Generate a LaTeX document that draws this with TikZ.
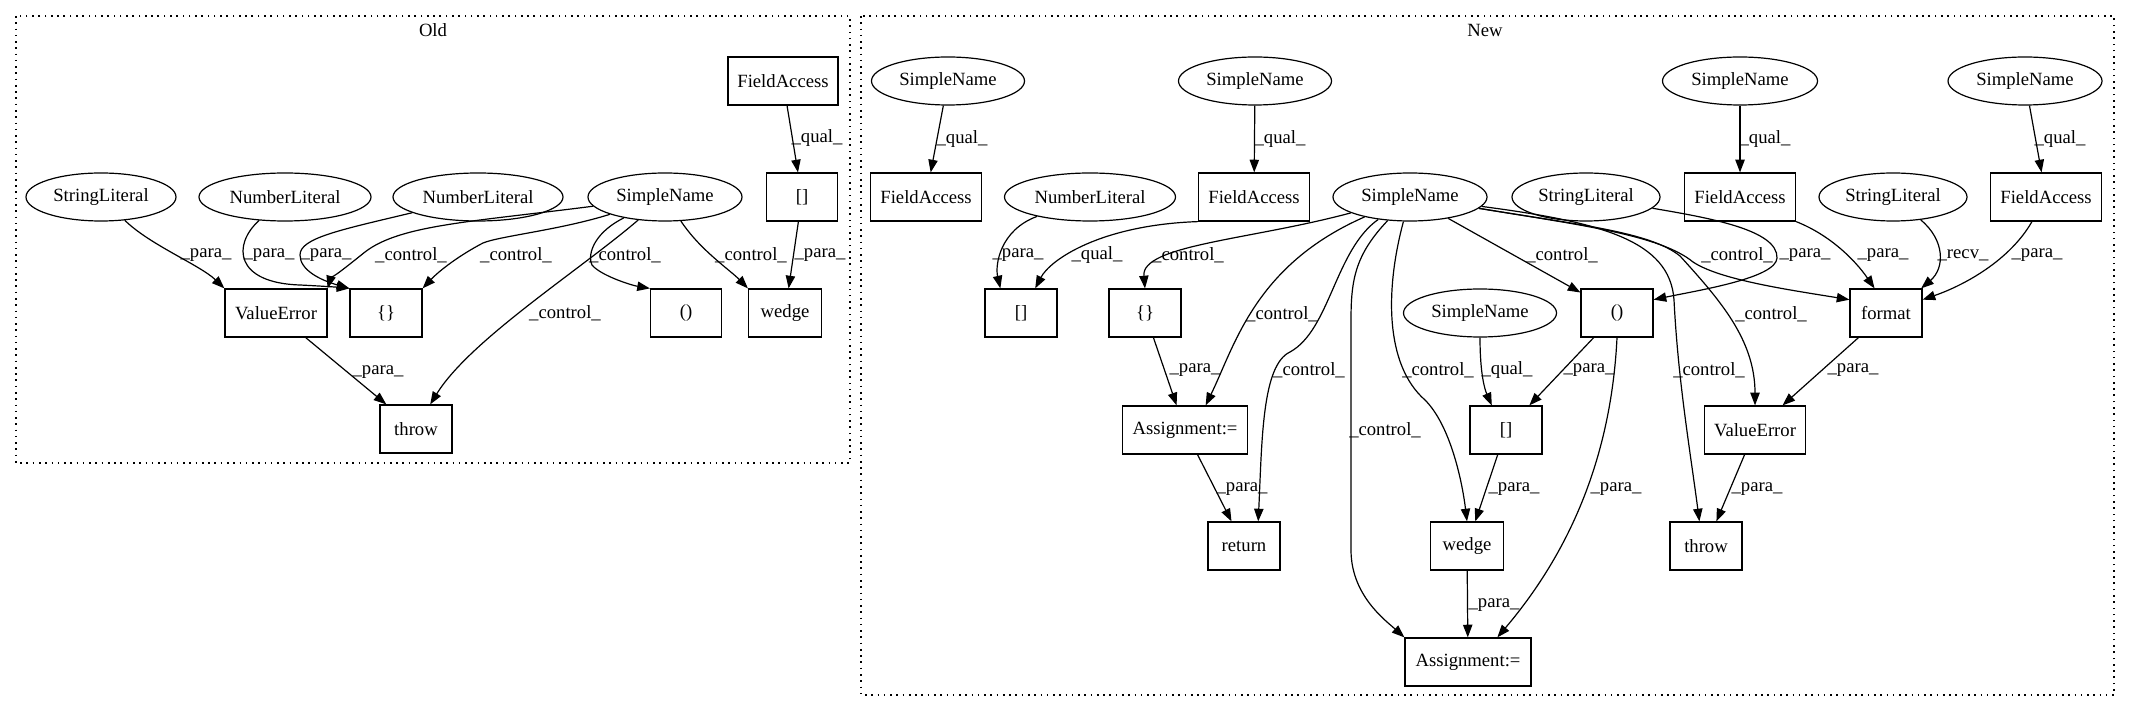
\documentclass[tikz,border=0pt]{standalone}
\usepackage{fontspec}
\setmainfont{Liberation Serif}
\usetikzlibrary{shapes.geometric,arrows.meta}
\begin{document}
\begin{tikzpicture}[x=0.75pt,y=-0.75pt,
 every node/.style={font=\fontsize{14pt}{16pt}\selectfont},
 wd/.style={minimum width=#1*0.75pt},
 box/.style={draw,rectangle,minimum height=36pt,inner sep=0pt,line width=0.9pt},
 ell/.style={draw,ellipse,minimum height=36pt,inner sep=0pt,line width=0.9pt},
 lbl/.style={inner sep=0pt},
 arr/.style={-{Triangle[length=9.5pt,width=7pt]},line width=0.9pt},
 cluster/.style={dash pattern=on 1.2pt off 3.5pt,line width=1pt}]
\useasboundingbox (0,0) rectangle (2129,712);
% clusters
\draw[cluster] (16,16) rectangle (850,463);
\draw[cluster] (861,16) rectangle (2114,695);
\node[lbl] (tOld) at (433,30) {Old};
\node[lbl] (tNew) at (1485,30) {New};
% ---------- Old ----------
\node[box,wd=110] (oFA) at (783,81) {FieldAccess};
\node[box,wd=71] (oBr) at (802,197) {[]};
\node[ell,wd=150] (oSL) at (101,197) {StringLiteral};
\node[ell,wd=172] (oNL1) at (285,197) {NumberLiteral};
\node[ell,wd=170] (oNL2) at (478,197) {NumberLiteral};
\node[ell,wd=154] (oSN) at (665,197) {SimpleName};
\node[box,wd=102] (oVE) at (276,313) {ValueError};
\node[box,wd=72] (oBraces) at (386,313) {\{\}};
\node[box,wd=71] (oParen) at (686,313) {()};
\node[box,wd=73] (oWedge) at (785,313) {wedge};
\node[box,wd=72] (oThrow) at (416,429) {throw};
\draw[arr] (oFA) -- (oBr);
\draw[arr] (oBr) -- (oWedge);
\draw[arr] (oSL) .. controls (150,245) and (200,265) .. (oVE.north west);
\draw[arr] (oNL1) .. controls (232,245) and (235,283) .. (300,285) .. controls (320,286) and (335,287) .. (oBraces.north west);
\draw[arr] (oNL2) .. controls (340,230) and (300,238) .. (300,255) .. controls (300,270) and (320,280) .. (oBraces.north west);
\draw[arr] (oSN) .. controls (470,222) and (400,225) .. (365,252) .. controls (345,268) and (330,280) .. (oVE.north east);
\draw[arr] (oSN) .. controls (560,230) and (500,236) .. (483,243) .. controls (460,255) and (440,270) .. (oBraces.north east);
\draw[arr] (oSN) .. controls (590,235) and (588,258) .. (592,265) .. controls (600,275) and (630,285) .. (oParen.north west);
\draw[arr] (oSN) .. controls (700,250) and (730,270) .. (oWedge.north west);
\draw[arr] (oSN) .. controls (580,270) and (470,340) .. (oThrow.60);
\draw[arr] (oVE) -- (oThrow);
\node[lbl] (ol1) at (817,138) {\_qual\_};
\node[lbl] (ol2) at (820,255) {\_para\_};
\node[lbl] (ol3) at (206,255) {\_para\_};
\node[lbl] (ol4) at (269,255) {\_para\_};
\node[lbl] (ol5) at (326,255) {\_para\_};
\node[lbl] (ol6) at (411,255) {\_control\_};
\node[lbl] (ol7) at (516,255) {\_control\_};
\node[lbl] (ol8) at (625,255) {\_control\_};
\node[lbl] (ol9) at (751,255) {\_control\_};
\node[lbl] (ol10) at (565,313) {\_control\_};
\node[lbl] (ol11) at (378,372) {\_para\_};
% ---------- New ----------
\node[ell,wd=153] (nSNA) at (948,81) {SimpleName};
\node[ell,wd=153] (nSNB) at (1255,81) {SimpleName};
\node[ell,wd=155] (nSND) at (1740,81) {SimpleName};
\node[ell,wd=154] (nSNE) at (2025,81) {SimpleName};
\node[box,wd=111] (nFAA) at (926,197) {FieldAccess};
\node[ell,wd=171] (nNL) at (1090,197) {NumberLiteral};
\node[box,wd=111] (nFAB) at (1254,197) {FieldAccess};
\node[ell,wd=154] (nSN) at (1410,197) {SimpleName};
\node[ell,wd=148] (nSL1) at (1586,197) {StringLiteral};
\node[box,wd=111] (nFAC) at (1740,197) {FieldAccess};
\node[ell,wd=148] (nSL2) at (1893,197) {StringLiteral};
\node[box,wd=111] (nFAD) at (2046,197) {FieldAccess};
\node[box,wd=72] (nBrA) at (1021,313) {[]};
\node[box,wd=72] (nBraces) at (1145,313) {\{\}};
\node[ell,wd=153] (nSNC) at (1480,313) {SimpleName};
\node[box,wd=72] (nParen) at (1617,313) {()};
\node[box,wd=72] (nFormat) at (1886,313) {format};
\node[box,wd=125] (nAsg1) at (1185,430) {Assignment:=};
\node[box,wd=72] (nBrB) at (1506,430) {[]};
\node[box,wd=101] (nVE) at (1755,430) {ValueError};
\node[box,wd=72] (nReturn) at (1244,546) {return};
\node[box,wd=73] (nWedge) at (1467,546) {wedge};
\node[box,wd=72] (nThrow) at (1706,546) {throw};
\node[box,wd=126] (nAsg2) at (1468,662) {Assignment:=};
% edges
\draw[arr] (nSNA) -- (nFAA);
\draw[arr] (nSNB) -- (nFAB);
\draw[arr] (nSND) -- (nFAC);
\draw[arr] (nSNE) -- (nFAD);
\draw[arr] (nNL) .. controls (1000,230) and (995,265) .. (nBrA.130);
\draw[arr] (nFAB.south west) .. controls (1100,225) and (1050,260) .. (nBrA.60);
\draw[arr] (nSN) .. controls (1250,240) and (1141,245) .. (nBraces.north);
\draw[arr] (nSN) .. controls (1255,265) and (1235,345) .. (nAsg1.50);
\draw[arr] (nSN) .. controls (1335,250) and (1330,330) .. (1290,352) .. controls (1262,365) and (1262,440) .. (nReturn.60);
\draw[arr] (nSN) .. controls (1355,255) and (1351,280) .. (1351,320) -- (1351,550) .. controls (1351,595) and (1385,620) .. (nAsg2.north west);
\draw[arr] (nSN) .. controls (1385,290) and (1385,365) .. (1425,400) .. controls (1450,425) and (1462,480) .. (nWedge.north);
\draw[arr] (nSNC) .. controls (1480,375) and (1485,390) .. (nBrB.120);
\draw[arr] (nParen) -- (nBrB);
\draw[arr] (nParen.south) .. controls (1612,440) and (1580,540) .. (nAsg2.40);
\draw[arr] (nBrB) -- (nWedge);
\draw[arr] (nBraces) -- (nAsg1);
\draw[arr] (nAsg1) -- (nReturn);
\draw[arr] (nWedge) -- (nAsg2);
\draw[arr] (nSN) -- (nParen);
\draw[arr] (nSN) .. controls (1580,225) and (1660,235) .. (1693,262) .. controls (1720,280) and (1790,290) .. (nFormat.160);
\draw[arr] (nSN) .. controls (1600,222) and (1670,240) .. (1674,300) .. controls (1678,380) and (1690,450) .. (nThrow.105);
\draw[arr] (nSN) .. controls (1580,225) and (1650,232) .. (1680,256) .. controls (1720,300) and (1755,340) .. (nVE.north);
\draw[arr] (nSL1) .. controls (1710,218) and (1778,230) .. (1777,258) .. controls (1776,278) and (1700,290) .. (nParen.20);
\draw[arr] (nFAC.south east) .. controls (1830,235) and (1855,260) .. (nFormat.115);
\draw[arr] (nSL2) .. controls (1945,240) and (1945,268) .. (nFormat.35);
\draw[arr] (nFAD) .. controls (2010,260) and (1965,285) .. (nFormat.20);
\draw[arr] (nFormat) -- (nVE);
\draw[arr] (nVE) -- (nThrow);
% labels
\node[lbl] (nl1) at (962,139) {\_qual\_};
\node[lbl] (nl2) at (1280,139) {\_qual\_};
\node[lbl] (nl3) at (1765,139) {\_qual\_};
\node[lbl] (nl4) at (2060,139) {\_qual\_};
\node[lbl] (nl5) at (1018,255) {\_para\_};
\node[lbl] (nl6) at (1097,255) {\_qual\_};
\node[lbl] (nl7) at (1188,255) {\_control\_};
\node[lbl] (nl8) at (1282,314) {\_control\_};
\node[lbl] (nl9) at (1309,370) {\_control\_};
\node[lbl] (nl10) at (1385,430) {\_control\_};
\node[lbl] (nl11) at (1438,370) {\_control\_};
\node[lbl] (nl12) at (1507,370) {\_qual\_};
\node[lbl] (nl13) at (1589,370) {\_para\_};
\node[lbl] (nl14) at (1616,489) {\_para\_};
\node[lbl] (nl15) at (1514,489) {\_para\_};
\node[lbl] (nl16) at (1195,370) {\_para\_};
\node[lbl] (nl17) at (1242,489) {\_para\_};
\node[lbl] (nl18) at (1494,605) {\_para\_};
\node[lbl] (nl19) at (1562,255) {\_control\_};
\node[lbl] (nl20) at (1737,255) {\_control\_};
\node[lbl] (nl21) at (1709,370) {\_control\_};
\node[lbl] (nl22) at (1771,314) {\_control\_};
\node[lbl] (nl23) at (1805,255) {\_para\_};
\node[lbl] (nl24) at (1883,255) {\_para\_};
\node[lbl] (nl25) at (1963,255) {\_recv\_};
\node[lbl] (nl26) at (2037,255) {\_para\_};
\node[lbl] (nl27) at (1853,370) {\_para\_};
\node[lbl] (nl28) at (1757,489) {\_para\_};
\end{tikzpicture}
\end{document}
